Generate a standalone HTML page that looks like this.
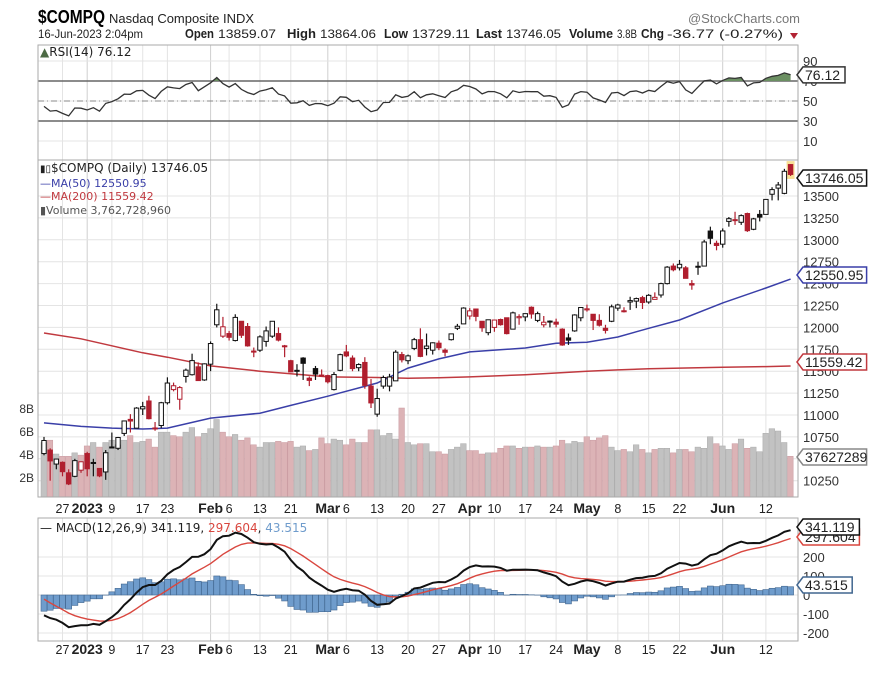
<!DOCTYPE html>
<html><head><meta charset="utf-8"><style>
html,body{margin:0;padding:0;background:#fff;}
svg{display:block;font-family:"Liberation Sans",sans-serif;}
</style></head><body>
<svg id="chart" width="873" height="673" viewBox="0 0 873 673" xmlns="http://www.w3.org/2000/svg">
<rect width="873" height="673" fill="#fff"/>
<g>
<text x="38" y="23" font-size="18" font-weight="bold" fill="#000" textLength="67" lengthAdjust="spacingAndGlyphs">$COMPQ</text>
<text x="109" y="23" font-size="13" fill="#222" textLength="145" lengthAdjust="spacingAndGlyphs">Nasdaq Composite  INDX</text>
<text x="688" y="23" font-size="13" fill="#777" textLength="112" lengthAdjust="spacingAndGlyphs">@StockCharts.com</text>
<g font-size="12" fill="#222">
<text x="38" y="38" textLength="105" lengthAdjust="spacingAndGlyphs">16-Jun-2023 2:04pm</text>
<text x="185" y="38" font-weight="bold" font-size="13" textLength="29" lengthAdjust="spacingAndGlyphs">Open</text>
<text x="218" y="38" textLength="58" lengthAdjust="spacingAndGlyphs">13859.07</text>
<text x="287" y="38" font-weight="bold" font-size="13" textLength="29" lengthAdjust="spacingAndGlyphs">High</text>
<text x="320" y="38" textLength="56" lengthAdjust="spacingAndGlyphs">13864.06</text>
<text x="384" y="38" font-weight="bold" font-size="13" textLength="24" lengthAdjust="spacingAndGlyphs">Low</text>
<text x="412" y="38" textLength="58" lengthAdjust="spacingAndGlyphs">13729.11</text>
<text x="476" y="38" font-weight="bold" font-size="13" textLength="26" lengthAdjust="spacingAndGlyphs">Last</text>
<text x="506" y="38" textLength="55" lengthAdjust="spacingAndGlyphs">13746.05</text>
<text x="569" y="38" font-weight="bold" font-size="13" textLength="44" lengthAdjust="spacingAndGlyphs">Volume</text>
<text x="617" y="38" textLength="20" lengthAdjust="spacingAndGlyphs">3.8B</text>
<text x="641" y="38" font-weight="bold" font-size="13" textLength="23" lengthAdjust="spacingAndGlyphs">Chg</text>
<text x="667" y="38" textLength="116" lengthAdjust="spacingAndGlyphs">-36.77 (-0.27%)</text>
</g>
<path d="M790 33 L798 33 L794 39 Z" fill="#b22233"/>
</g>
<g id="grid"></g>
<g id="rsi"></g>
<g id="main"></g>
<g id="macd"></g>
<g id="axes"></g>
</svg>
<script>
// ---- data ----
const dates = ["Dec21","Dec22","Dec23","Dec27","Dec28","Dec29","Dec30",
"Jan3","Jan4","Jan5","Jan6","Jan9","Jan10","Jan11","Jan12","Jan13","Jan17","Jan18","Jan19","Jan20","Jan23","Jan24","Jan25","Jan26","Jan27","Jan30","Jan31",
"Feb1","Feb2","Feb3","Feb6","Feb7","Feb8","Feb9","Feb10","Feb13","Feb14","Feb15","Feb16","Feb17","Feb21","Feb22","Feb23","Feb24","Feb27","Feb28",
"Mar1","Mar2","Mar3","Mar6","Mar7","Mar8","Mar9","Mar10","Mar13","Mar14","Mar15","Mar16","Mar17","Mar20","Mar21","Mar22","Mar23","Mar24","Mar27","Mar28","Mar29","Mar30","Mar31",
"Apr3","Apr4","Apr5","Apr6","Apr10","Apr11","Apr12","Apr13","Apr14","Apr17","Apr18","Apr19","Apr20","Apr21","Apr24","Apr25","Apr26","Apr27","Apr28",
"May1","May2","May3","May4","May5","May8","May9","May10","May11","May12","May15","May16","May17","May18","May19","May22","May23","May24","May25","May26","May30","May31",
"Jun1","Jun2","Jun5","Jun6","Jun7","Jun8","Jun9","Jun12","Jun13","Jun14","Jun15","Jun16"];
const opens = [10560,10600,10440,10460,10340,10300,10370,
10560,10450,10390,10350,10630,10620,10790,10950,10850,11070,11160,10850,10880,11140,11290,11180,11440,11460,11550,11400,
11580,12030,11900,11930,11850,12070,12010,11730,11740,11840,11900,11930,11790,11620,11510,11650,11420,11530,11450,
11450,11290,11510,11720,11650,11540,11600,11330,11010,11330,11330,11390,11690,11620,11760,11860,11760,11740,11820,11740,11860,11990,12040,
12130,12210,12070,11940,12000,12090,12110,11980,12110,12120,12230,12080,12030,12070,12060,11980,11880,11960,12110,
12200,12150,12080,11990,12070,12220,12190,12290,12300,12340,12290,12320,12370,12500,12700,12680,12680,12500,12690,12700,13100,12960,
12950,13210,13220,13200,13300,13120,13290,13290,13520,13590,13530,13859];
const highs = [10750,10620,10500,10470,10380,10500,10470,
10580,10500,10390,10600,10800,10750,10930,11010,11090,11150,11220,10920,11150,11430,11370,11330,11530,11700,11600,11590,
11840,12270,12120,11960,12150,12070,12050,11770,11910,12010,12070,12000,11800,11630,11580,11660,11440,11560,11520,
11460,11490,11700,11800,11680,11590,11660,11410,11300,11450,11470,11740,11720,11690,11880,11990,11930,11830,11850,11760,11930,12040,12230,
12220,12210,12070,12090,12090,12100,12110,12180,12150,12160,12240,12180,12130,12080,12100,11990,11930,12150,12230,
12260,12150,12150,12030,12260,12270,12230,12350,12340,12360,12380,12400,12510,12700,12730,12770,12700,12540,12750,13000,13150,12990,
13130,13260,13320,13290,13310,13250,13340,13460,13600,13660,13810,13864];
const lows = [10540,10250,10380,10300,10200,10290,10340,
10300,10300,10290,10260,10630,10600,10760,10800,10850,11000,10950,10820,10850,11120,11270,11060,11370,11450,11390,11390,
11500,12000,11880,11850,11840,11880,11780,11660,11720,11780,11880,11840,11660,11490,11440,11400,11330,11400,11440,
11360,11280,11500,11660,11500,11500,11300,11080,10980,11300,11270,11390,11600,11580,11740,11660,11680,11690,11740,11670,11850,11970,12040,
12090,12070,11950,11910,11950,12020,11920,11980,12030,12070,12100,12060,12000,12000,12000,11790,11800,11950,12070,
12180,11970,12010,11930,12060,12190,12170,12200,12220,12210,12270,12320,12340,12490,12640,12650,12560,12430,12600,12700,12950,12880,
12910,13150,13170,13170,13090,13110,13210,13290,13450,13450,13520,13729];
const closes = [10709,10476,10497,10353,10213,10479,10466,
10386,10458,10305,10569,10635,10743,10932,10931,11079,11095,10958,10852,11140,11365,11334,11313,11512,11621,11393,11584,
11816,12201,12007,11887,12114,11910,11789,11718,11892,11960,12070,11855,11787,11492,11507,11590,11395,11467,11456,
11379,11462,11689,11675,11530,11576,11338,11138,11188,11428,11434,11717,11630,11675,11860,11669,11787,11824,11768,11716,11926,12013,12221,
12189,12126,11996,12087,12084,12031,11929,12166,12123,12157,12153,12157,12059,12072,12037,11799,11854,12142,12227,
12212,12080,12025,11966,12235,12256,12180,12306,12329,12284,12366,12343,12500,12688,12658,12720,12560,12484,12698,12975,13017,12935,
13101,13241,13230,13276,13104,13239,13259,13461,13573,13626,13782,13746];
const volumesB = [5.0,5.2,4.0,3.8,3.8,4.1,3.9,
4.7,5.0,4.6,5.0,5.2,4.8,5.2,5.6,5.0,5.1,5.3,4.6,5.9,5.9,5.6,5.5,5.9,6.3,5.5,5.8,
6.2,7.0,5.9,5.5,5.7,5.2,5.4,4.8,4.6,5.0,5.0,5.1,5.0,5.1,4.6,4.7,4.3,4.4,5.4,
4.9,5.3,5.2,4.8,5.3,5.0,5.0,6.1,6.1,5.6,5.8,5.3,8.0,5.0,4.8,4.9,4.9,4.2,4.2,4.0,4.4,4.6,4.9,
4.3,4.3,4.0,4.1,4.1,4.5,4.7,4.7,4.5,4.6,4.6,4.7,4.6,4.6,4.7,5.2,4.9,5.1,5.0,
5.5,5.2,5.4,5.6,4.6,4.3,4.4,4.2,4.8,4.4,4.1,4.4,4.5,4.5,4.1,4.4,4.4,4.2,4.6,4.5,5.5,4.9,
4.7,4.4,4.9,5.3,4.5,4.6,4.2,5.8,6.2,6.0,5.0,3.8];
const prevClose0 = 10547;
// moving averages at sample days
const maDayIdx = [0,6,11,16,20,27,35,40,46,54,59,64,69,78,83,88,93,98,103,110,117,121];
const ma50 = [10910,10870,10850,10840,10850,10965,11020,11110,11215,11365,11535,11640,11720,11765,11820,11830,11890,11990,12085,12280,12450,12551];
const ma200 = [11936,11870,11790,11710,11660,11560,11500,11470,11435,11428,11420,11425,11435,11460,11480,11500,11515,11528,11535,11545,11552,11559];
// indicator seed state (prior to first visible day)
const ema12Seed = 10770, ema26Seed = 10880, signalSeed = 0;
const rsiGainSeed = 60, rsiLossSeed = 90;
// axis ticks
const priceTicks = [13500,13250,13000,12750,12500,12250,12000,11750,11500,11250,11000,10750,10500,10250];
const volTicks = [8,6,4,2];
const rsiTicks = [90,70,50,30,10];
const macdTicks = [200,100,0,-100,-200];
const xLabelIdx = [3,7,11,16,20,27,30,35,40,46,49,54,59,64,69,73,78,83,88,93,98,103,110,117];
const xLabelText = ["27","2023","9","17","23","Feb","6","13","21","Mar","6","13","20","27","Apr","10","17","24","May","8","15","22","Jun","12"];
const xLabelBold = [0,1,0,0,0,1,0,0,0,1,0,0,0,0,1,0,0,0,1,0,0,0,1,0];

// ---- scales ----
const L=38, R=798;
const xs = i => 44 + i*6.17;
const yp = p => 196 + (13500-p)/250*21.9;
const yv = v => 500 - v*11.5;
const yr = v => 101 - (v-50)*1.0;
const ym = v => 595 - v*0.19;
const NS="http://www.w3.org/2000/svg";
function mk(tag, attrs, parent){const e=document.createElementNS(NS,tag);for(const k in attrs)e.setAttribute(k,attrs[k]);parent.appendChild(e);return e;}
const svg=document.getElementById('chart');
const gGrid=document.getElementById('grid'),gR=document.getElementById('rsi'),gM=document.getElementById('main'),gC=document.getElementById('macd'),gA=document.getElementById('axes');
const defs=mk('defs',{},svg);
const cp1=mk('clipPath',{id:'cpMain'},defs);mk('rect',{x:L,y:161,width:R-L,height:336},cp1);
const cp2=mk('clipPath',{id:'cpMacd'},defs);mk('rect',{x:L,y:518,width:R-L,height:123},cp2);
const cp3=mk('clipPath',{id:'cpRsiHi'},defs);mk('rect',{x:L,y:45,width:R-L,height:yr(70)-45},cp3);

const panels=[[45,160],[160,497],[518,641]];
panels.forEach((p,k)=>{
  const r=mk('rect',{x:L,y:p[0],width:R-L,height:p[1]-p[0],fill:'none',stroke:'#aaa','stroke-width':1},gA);
  
  
});
xLabelIdx.forEach((ix,k)=>{
  panels.forEach(p=>{
    const l=mk('line',{x1:xs(ix),x2:xs(ix),y1:p[0],y2:p[1],stroke:xLabelBold[k]?'#cfcfcf':'#e4e4e4','stroke-width':1},gGrid);
    
    
  });
});
priceTicks.forEach(t=>{
  const l=mk('line',{x1:L,x2:R,y1:yp(t),y2:yp(t),stroke:'#e4e4e4'},gGrid);
  
  
  const tx=mk('text',{x:803,y:yp(t)+5,'font-size':13,fill:'#333',textLength:36,lengthAdjust:'spacingAndGlyphs'},gA);tx.textContent=t;
  
  
});
volTicks.forEach(t=>{
  const tx=mk('text',{x:34,y:yv(t)+5,'font-size':12,fill:'#333','text-anchor':'end'},gA);tx.textContent=t+'B';
  
  
});
rsiTicks.forEach(t=>{
  const l=mk('line',{x1:L,x2:R,y1:yr(t),y2:yr(t),stroke:'#e4e4e4'},gGrid);
  
  
  const tx=mk('text',{x:803,y:yr(t)+5,'font-size':13,fill:'#333'},gA);tx.textContent=t;
  
  
});
macdTicks.forEach(t=>{
  const l=mk('line',{x1:L,x2:R,y1:ym(t),y2:ym(t),stroke:'#e4e4e4'},gGrid);
  
  
  const tx=mk('text',{x:803,y:ym(t)+5,'font-size':13,fill:'#333'},gA);tx.textContent=t;
  
  
});
[509,650].forEach(yy=>{
  xLabelIdx.forEach((ix,k)=>{
    const tx=mk('text',{x:xs(ix),y:yy+4,'font-size':xLabelBold[k]?14:12.5,'font-weight':xLabelBold[k]?'bold':'normal',fill:'#222','text-anchor':'middle'},gA);
    tx.textContent=xLabelText[k];
    
    
  });
});

// ---- RSI ----
let ag=rsiGainSeed, al=rsiLossSeed; const rsi=[];
closes.forEach((c,i)=>{const d=c-(i?closes[i-1]:prevClose0);ag=(ag*13+Math.max(d,0))/14;al=(al*13+Math.max(-d,0))/14;rsi.push(100-100/(1+ag/al));});
[[70,'#666',1.5,''],[30,'#666',1.5,''],[50,'#888',1,'6,3,1,3']].forEach(s=>{
  const l=mk('line',{x1:L,x2:R,y1:yr(s[0]),y2:yr(s[0]),stroke:s[1],'stroke-width':s[2]},gR);
  if(s[3])l.setAttribute('stroke-dasharray',s[3]);
  
  
});
let rp=rsi.map((v,i)=>xs(i).toFixed(1)+','+yr(v).toFixed(1)).join(' ');
const rf=mk('polygon',{points:xs(0)+','+yr(70)+' '+rp+' '+xs(rsi.length-1)+','+yr(70),fill:'#6b8f62','clip-path':'url(#cpRsiHi)'},gR);


const rl=mk('polyline',{points:rp,fill:'none',stroke:'#333','stroke-width':1.3},gR);



// ---- volume ----
const gMain=mk('g',{'clip-path':'url(#cpMain)'},gM);
volumesB.forEach((v,i)=>{
  const pc=i?closes[i-1]:prevClose0;
  const b=mk('rect',{x:xs(i)-3,y:yv(v),width:5.6,height:v*11.5,fill:closes[i]<pc?'#dcb3b6':'#c2c2c2',stroke:closes[i]<pc?'#c99aa0':'#aaa','stroke-width':0.5},gMain);
  
  
});
function maLine(arr,col,name){
  const l=mk('polyline',{points:arr.map((v,k)=>xs(maDayIdx[k]).toFixed(1)+','+yp(v).toFixed(1)).join(' '),fill:'none',stroke:col,'stroke-width':1.5},gMain);
  
  
}
maLine(ma200,'#c0393f','ma200-line');
maLine(ma50,'#3a3fa8','ma50-line');
const hl=mk('rect',{x:xs(121)-4,y:yp(13864)-3,width:8,height:yp(13729)-yp(13864)+6,fill:'#f5d36a',opacity:0.7},gMain);


closes.forEach((c,i)=>{
  const o=opens[i],pc=i?closes[i-1]:prevClose0;
  const col=c<pc?'#b01e2e':'#111';
  const g=mk('g',{},gMain);
  
  
  mk('line',{x1:xs(i),x2:xs(i),y1:yp(highs[i]),y2:yp(lows[i]),stroke:col,'stroke-width':1.2},g);
  const top=yp(Math.max(o,c)),bot=yp(Math.min(o,c));
  mk('rect',{x:xs(i)-2.2,y:top,width:4.4,height:Math.max(bot-top,1),fill:c>=o?'#fff':col,stroke:col,'stroke-width':1},g);
});

// ---- MACD ----
let e12=ema12Seed,e26=ema26Seed,sg=signalSeed;const macd=[],sig=[];
closes.forEach(c=>{e12+= (c-e12)*2/13;e26+=(c-e26)*2/27;const m=e12-e26;sg+=(m-sg)*2/10;macd.push(m);sig.push(sg);});
const gMc=mk('g',{'clip-path':'url(#cpMacd)'},gC);
macd.forEach((m,i)=>{
  const h=m-sig[i];
  const b=mk('rect',{x:xs(i)-3,y:Math.min(ym(0),ym(h)),width:6,height:Math.abs(ym(h)-ym(0)),fill:'#6f9ccc',stroke:'#41668f','stroke-width':0.6},gMc);
  
  
});
const sl=mk('polyline',{points:sig.map((v,i)=>xs(i).toFixed(1)+','+ym(v).toFixed(1)).join(' '),fill:'none',stroke:'#d9473f','stroke-width':1.4},gMc);


const ml=mk('polyline',{points:macd.map((v,i)=>xs(i).toFixed(1)+','+ym(v).toFixed(1)).join(' '),fill:'none',stroke:'#111','stroke-width':2},gMc);



// ---- value tags ----
function tag(y,txt,col,name){
  const g=mk('g',{},gA);
  
  
  const w=txt.length*7.2+6;
  mk('path',{d:`M797 ${y} L803 ${y-8} L${803+w} ${y-8} L${803+w} ${y+8} L803 ${y+8} Z`,fill:'#fff',stroke:col,'stroke-width':1.5},g);
  const t=mk('text',{x:805,y:y+5,'font-size':14,fill:'#222'},g);t.textContent=txt;
}
tag(yr(76.12),'76.12','#333','rsi-value-tag');
tag(178,'13746.05','#111','price-value-tag');
tag(275,'12550.95','#3a3fa8','ma50-value-tag');
tag(362,'11559.42','#c0393f','ma200-value-tag');
tag(457,'37627289','#888','volume-value-tag');
tag(537,'297.604','#d9473f','signal-value-tag');
tag(527,'341.119','#111','macd-value-tag');
tag(585,'43.515','#41668f','histogram-value-tag');
</script>
<div style="position:absolute;left:0;top:0;width:873px;height:673px;pointer-events:none;font-family:'DejaVu Sans','Liberation Sans',sans-serif;">
<div style="position:absolute;left:40px;top:45px;font-size:12px;color:#222;"><span style="color:#4d6b45">&#9650;</span>RSI(14) 76.12</div>
<div style="position:absolute;left:40px;top:162px;font-size:12px;color:#222;line-height:13.5px;">
<div><span style="font-size:10px">&#9646;&#9647;</span>$COMPQ (Daily) 13746.05</div>
<div style="color:#3a3fa8;font-size:11px;">&#8212;MA(50) 12550.95</div>
<div style="color:#c0393f;font-size:11px;">&#8212;MA(200) 11559.42</div>
<div style="color:#555;font-size:11px;">&#9646;Volume 3,762,728,960</div>
</div>
<div style="position:absolute;left:40px;top:521px;font-size:12px;color:#222;">&#8212; MACD(12,26,9) 341.119, <span style="color:#d9473f">297.604</span>, <span style="color:#6f9ccc">43.515</span></div>
</div>
</body></html>
